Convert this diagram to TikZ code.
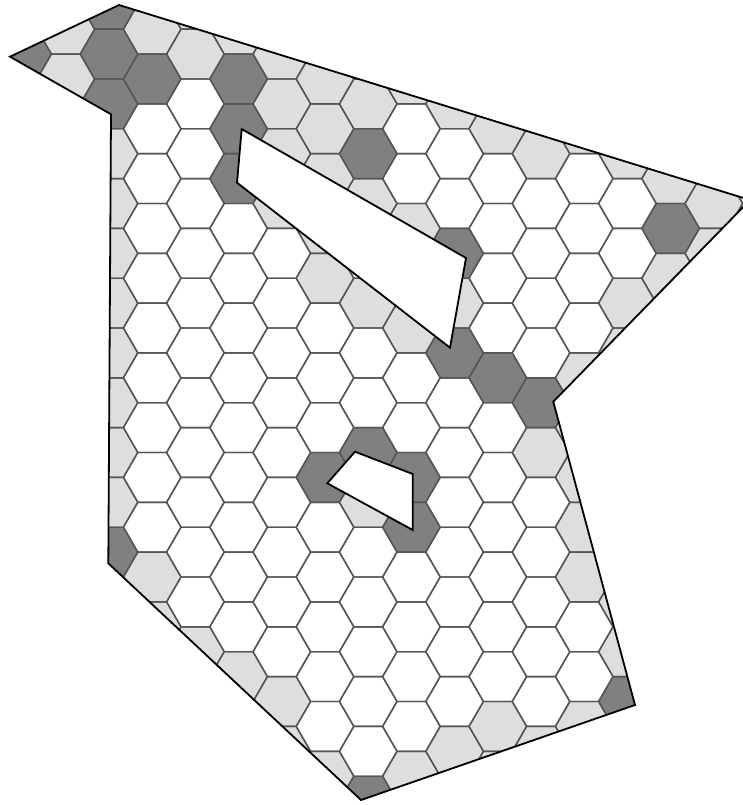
\documentclass[tikz,border=0pt]{standalone}

\definecolor{celldark}{RGB}{128,128,128}
\definecolor{celllight}{RGB}{222,222,222}
\definecolor{cellline}{RGB}{85,85,85}

\begin{document}
\begin{tikzpicture}[
  x=1pt, y=-1pt,
  hex/.pic={
    \path[pic actions] (28.8,0) -- (14.4,24.9) -- (-14.4,24.9)
      -- (-28.8,0) -- (-14.4,-24.9) -- (14.4,-24.9) -- cycle;
  },
  grid line/.style={draw=cellline, line width=1.4pt, line join=round},
  dark cell/.style={fill=celldark},
  light cell/.style={fill=celllight},
  rim/.style={draw=black, line width=1.8pt, line join=miter}
]
  \path[use as bounding box, fill=white] (0,0) rectangle (743,805);

  \coordinate (top)      at (119,5);
  \coordinate (tip)      at (750,200);
  \coordinate (notch)    at (553.3,401.7);
  \coordinate (lowright) at (635,705);
  \coordinate (bottom)   at (361,800);
  \coordinate (lowleft)  at (108.3,563.3);
  \coordinate (elbow)    at (111,114.3);
  \coordinate (beak)     at (10,56.7);

  \coordinate (slot-a) at (241.7,129);
  \coordinate (slot-b) at (466,258);
  \coordinate (slot-c) at (450,347.7);
  \coordinate (slot-d) at (237,182.7);

  \coordinate (gap-a) at (355,451.7);
  \coordinate (gap-b) at (412.7,474);
  \coordinate (gap-c) at (412.7,530);
  \coordinate (gap-d) at (327.3,483.3);

  \begin{scope}
    \clip (top) -- (tip) -- (notch) -- (lowright) -- (bottom)
      -- (lowleft) -- (elbow) -- (beak) -- cycle;

    \foreach \i/\r in {-2/-8,-2/-6,0/-8,1/-9,1/-7,2/-8,3/-7,3/-5,3/-3,3/-1,
        4/-6,4/-4,4/-2,4/0,4/2,5/-7,5/-5,5/-1,5/3,6/-6,6/0,6/4,7/-5,7/3,
        8/-4,9/-3,10/-4,11/-3,12/-2,13/-1,14/-2,14/0,13/1,12/2,11/3,11/5,
        10/6,10/8,9/9,10/10,10/12,10/14,11/15,11/17,10/20,9/21,8/20,8/22,
        7/21,6/22,4/22,3/21,3/19,2/18,1/17,0/16,0/14,5/11,
        -1/-3,-1/-1,-1/1,-1/3,-1/5,-1/7,-1/9,-1/11}
      \pic[light cell] at ({152.2+43.2*(\i)},{228.4+24.9*(\r)}) {hex};

    \foreach \i/\r in {-3/-7,-1/-9,-1/-7,-1/-5,0/-6,2/-6,2/-4,2/-2,5/-3,
        12/0,7/1,7/5,8/6,9/7,5/9,4/10,6/10,6/12,-1/13,5/23,11/19}
      \pic[dark cell] at ({152.2+43.2*(\i)},{228.4+24.9*(\r)}) {hex};

    \foreach \i in {-3,...,14}
      \foreach \r in {-10,...,24} {
        \pgfmathtruncatemacro\s{\i+\r}
        \ifodd\s\else
          \pic[grid line] at ({152.2+43.2*(\i)},{228.4+24.9*(\r)}) {hex};
        \fi
      }
  \end{scope}

  \path[rim, fill=white] (slot-a) -- (slot-b) -- (slot-c) -- (slot-d) -- cycle;
  \path[rim, fill=white] (gap-a) -- (gap-b) -- (gap-c) -- (gap-d) -- cycle;

  \path[rim] (top) -- (tip) -- (notch) -- (lowright) -- (bottom)
    -- (lowleft) -- (elbow) -- (beak) -- cycle;
\end{tikzpicture}
\end{document}
